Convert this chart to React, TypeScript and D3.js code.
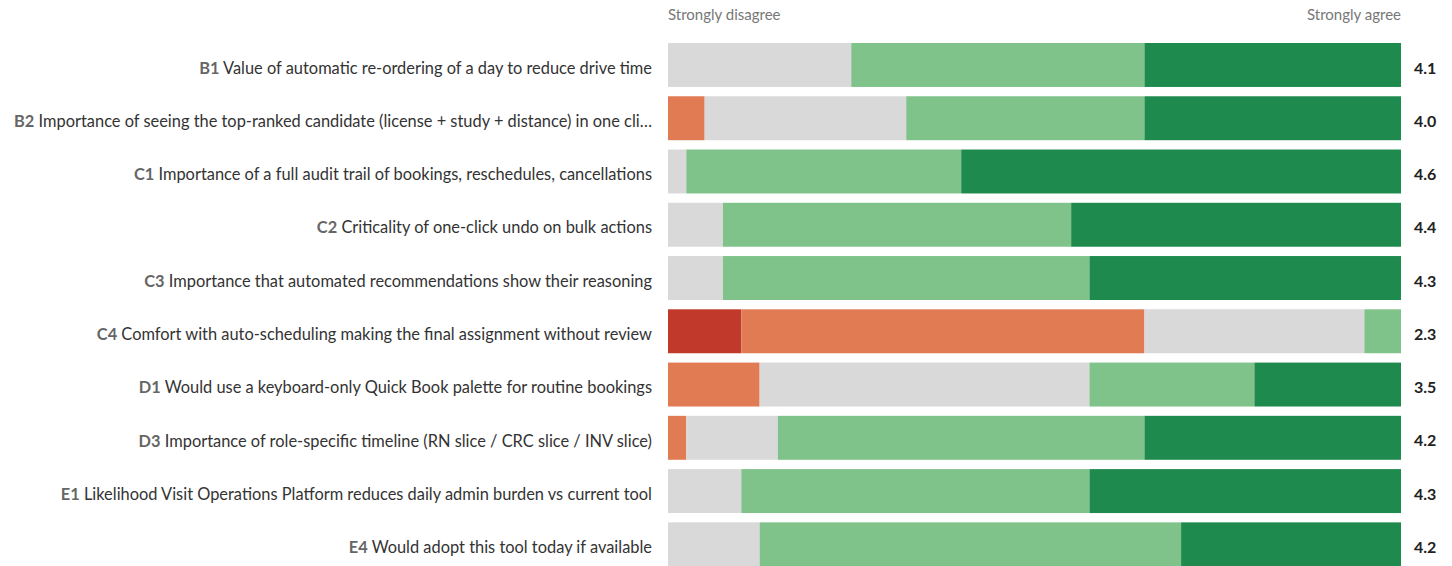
import React from "react";
import * as d3 from "d3";

const codes = ["B1", "B2", "C1", "C2", "C3", "C4", "D1", "D3", "E1", "E4"];
const questions = [
  "Value of automatic re-ordering of a day to reduce drive time",
  "Importance of seeing the top-ranked candidate (license + study + distance) in one cli…",
  "Importance of a full audit trail of bookings, reschedules, cancellations",
  "Criticality of one-click undo on bulk actions",
  "Importance that automated recommendations show their reasoning",
  "Comfort with auto-scheduling making the final assignment without review",
  "Would use a keyboard-only Quick Book palette for routine bookings",
  "Importance of role-specific timeline (RN slice / CRC slice / INV slice)",
  "Likelihood Visit Operations Platform reduces daily admin burden vs current tool",
  "Would adopt this tool today if available",
];
// percentage of responses: strongly disagree, disagree, neutral, agree, strongly agree
const stronglyDisagree = [0, 0, 0, 0, 0, 10, 0, 0, 0, 0];
const disagree = [0, 5, 0, 0, 0, 55, 12.5, 2.5, 0, 0];
const neutral = [25, 27.5, 2.5, 7.5, 7.5, 30, 45, 12.5, 10, 12.5];
const agree = [40, 32.5, 37.5, 47.5, 50, 5, 22.5, 50, 47.5, 57.5];
const stronglyAgree = [35, 35, 60, 45, 42.5, 0, 20, 35, 42.5, 30];
const means = ["4.1", "4.0", "4.6", "4.4", "4.3", "2.3", "3.5", "4.2", "4.3", "4.2"];
const scaleLabels = ["Strongly disagree", "Strongly agree"];

const colors = ["#c0392b", "#e07b54", "#d9d9d9", "#7fc28a", "#1e8a4e"];

export default function App() {
  const W = 1452;
  const H = 566;
  const x0 = 668;
  const x1 = 1401;
  const x = d3.scaleLinear().domain([0, 100]).range([x0, x1]);
  const y = d3
    .scaleBand<string>()
    .domain(codes)
    .range([43, 566.3])
    .paddingInner(0.175)
    .paddingOuter(0);

  const series = [stronglyDisagree, disagree, neutral, agree, stronglyAgree];
  const rows = codes.map((c, i) => {
    const vals = series.map((s) => s[i]);
    const cum = d3.cumsum(vals);
    return vals.map((v, k) => ({ start: cum[k] - v, end: cum[k], color: colors[k] }));
  });

  const font = "Lato, 'Open Sans', sans-serif";

  return (
    <svg
      width={W}
      height={H}
      style={{ position: "absolute", left: 0, top: 0, display: "block" }}
      fontFamily={font}
    >
      <rect width={W} height={H} fill="#fff" />
      <text x={x0} y={20} fontSize={15} fill="#777">
        {scaleLabels[0]}
      </text>
      <text x={x1} y={20} fontSize={15} fill="#777" textAnchor="end">
        {scaleLabels[1]}
      </text>
      {codes.map((c, i) => {
        const by = y(c)!;
        const bh = y.bandwidth();
        const cy = by + bh / 2 + 3;
        return (
          <g key={c}>
            {rows[i]
              .filter((s) => s.end - s.start > 0)
              .map((s, k) => (
                <rect
                  key={k}
                  x={x(s.start)}
                  y={by}
                  width={x(s.end) - x(s.start)}
                  height={bh}
                  fill={s.color}
                />
              ))}
            <text x={652} y={cy} dy="0.35em" fontSize={16.4} textAnchor="end" fill="#333">
              <tspan fontWeight="bold" fill="#666">
                {c}
              </tspan>
              <tspan> {questions[i]}</tspan>
            </text>
            <text x={1414} y={cy} dy="0.35em" fontSize={16} fontWeight="bold" fill="#222">
              {means[i]}
            </text>
          </g>
        );
      })}
    </svg>
  );
}
